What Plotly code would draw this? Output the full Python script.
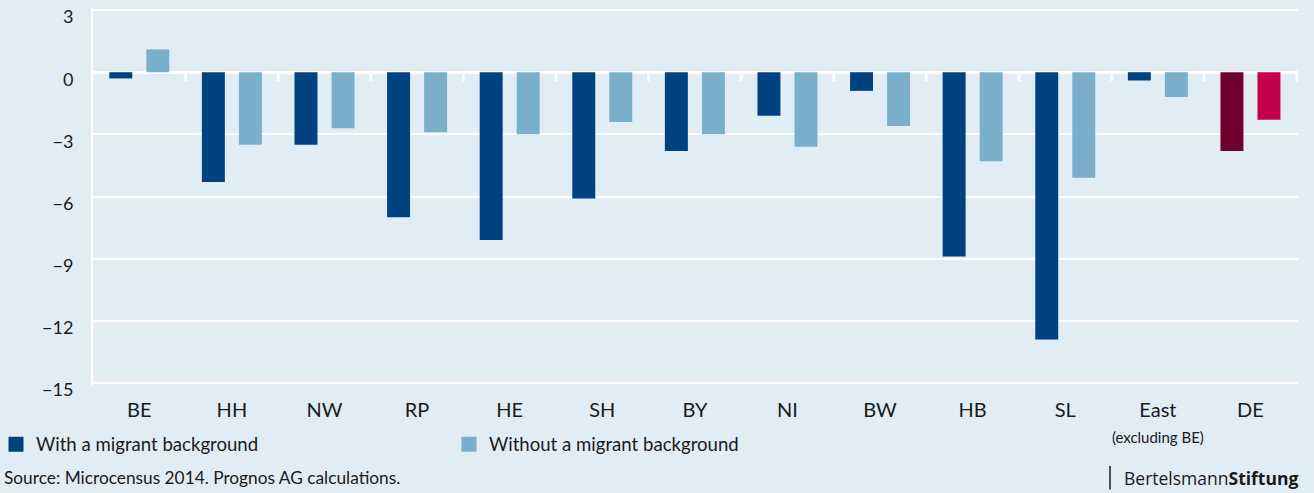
import plotly.graph_objects as go

regions = ["BE", "HH", "NW", "RP", "HE", "SH", "BY", "NI", "BW", "HB", "SL", "East", "DE"]
region_labels = ["BE", "HH", "NW", "RP", "HE", "SH", "BY", "NI", "BW", "HB", "SL",
                 "East<br><span style='font-size:15px'>(excluding BE)</span>", "DE"]
with_migrant = [-0.3, -5.3, -3.5, -7.0, -8.1, -6.1, -3.8, -2.1, -0.9, -8.9, -12.9, -0.4, -3.8]
without_migrant = [1.1, -3.5, -2.7, -2.9, -3.0, -2.4, -3.0, -3.6, -2.6, -4.3, -5.1, -1.2, -2.3]
y_ticks = [-15, -12, -9, -6, -3, 0, 3]
series_names = ["With a migrant background", "Without a migrant background"]

BG = "#e1edf5"
DARK = "#00427f"
LIGHT = "#7aafcb"
DE_DARK = "#6f0030"
DE_LIGHT = "#c5004a"
TXT = "#1a1a1a"

col_with = [DE_DARK if r == "DE" else DARK for r in regions]
col_without = [DE_LIGHT if r == "DE" else LIGHT for r in regions]

fig = go.Figure()
fig.add_trace(go.Bar(x=regions, y=with_migrant, name=series_names[0], showlegend=False,
                     marker=dict(color=col_with, line=dict(width=0))))
fig.add_trace(go.Bar(x=regions, y=without_migrant, name=series_names[1], showlegend=False,
                     marker=dict(color=col_without, line=dict(width=0))))
# legend entries with larger square swatches
for nm, c in zip(series_names, [DARK, LIGHT]):
    fig.add_trace(go.Scatter(x=[None], y=[None], mode="markers", name=nm,
                             marker=dict(symbol="square", size=15, color=c, line=dict(width=0))))

# small white ticks on the zero line at category boundaries
for i in range(len(regions)):
    fig.add_shape(type="line", xref="x", yref="y", x0=i + 0.5, x1=i + 0.5, y0=0, y1=-0.43,
                  line=dict(color="white", width=2.5), layer="below")

fig.update_layout(
    width=1314, height=493,
    paper_bgcolor=BG, plot_bgcolor=BG,
    margin=dict(l=93, r=16, t=8, b=108, autoexpand=False),
    barmode="group", bargap=0.2, bargroupgap=0.38,
    font=dict(family="Lato", color=TXT, size=18),
    showlegend=True,
    legend=dict(orientation="h", x=-0.0805, y=-0.158, xanchor="left", yanchor="middle",
                font=dict(size=18.6), entrywidth=408, bgcolor="rgba(0,0,0,0)", itemclick=False,
                itemsizing="trace"),
    xaxis=dict(type="category", categoryorder="array", categoryarray=regions,
               tickvals=regions, ticktext=region_labels, showgrid=False, showline=False,
               zeroline=False, ticks="", ticklabelstandoff=11, tickfont=dict(size=20)),
    yaxis=dict(range=[-15.1, 3.1], tickvals=y_ticks, showgrid=True, gridcolor="white", gridwidth=1.5,
               zeroline=True, zerolinecolor="white", zerolinewidth=2.5,
               showline=True, linecolor="white", linewidth=2,
               ticks="", ticklabelstandoff=14, ticklabelshift=7, ticklabeloverflow="allow",
               tickfont=dict(size=18)),
)

# logo separator bar
fig.add_shape(type="line", xref="paper", yref="paper", x0=0.844, x1=0.844, y0=-0.215, y1=-0.277,
              line=dict(color=TXT, width=1.5))

fig.add_annotation(text="Source: Microcensus 2014. Prognos AG calculations.", xref="paper",
                   yref="paper", x=-0.0755, y=-0.246, xanchor="left", yanchor="middle",
                   showarrow=False, font=dict(size=17.3, color=TXT))
fig.add_annotation(text="Bertelsmann<b>Stiftung</b>", xref="paper", yref="paper",
                   x=1.0017, y=-0.246, xanchor="right", yanchor="middle",
                   showarrow=False, font=dict(family="Open Sans", size=17.5, color=TXT))

fig.write_html("out.html", config={"displayModeBar": False},
               post_script="document.body.style.margin='0';document.body.style.padding='0';")
